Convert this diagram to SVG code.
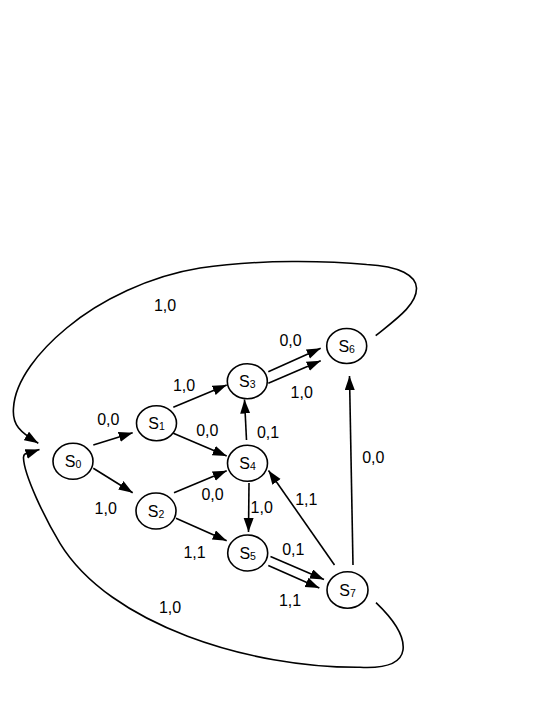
<svg xmlns="http://www.w3.org/2000/svg" width="545" height="705" viewBox="0 0 545 705">
<defs>
<marker id="arr" markerUnits="userSpaceOnUse" markerWidth="15" markerHeight="11" refX="14" refY="5" orient="auto">
<path d="M0,0 L14,5 L0,10 z" fill="#000"/>
</marker>
<style>
.node ellipse{fill:#fff;stroke:#000;stroke-width:1.6}
.node text{font-family:"Liberation Sans",Arial,sans-serif;font-size:16px;text-anchor:middle;fill:#000}
.node tspan{font-size:10.5px}
.edges path,.edges line{fill:none;stroke:#000;stroke-width:1.6}
.arrow{marker-end:url(#arr)}
.lbl{font-family:"Liberation Sans",Arial,sans-serif;font-size:16px;text-anchor:middle;fill:#000}
</style>
</defs>
<rect width="545" height="705" fill="#fff"/>
<g class="edges" id="connectors">
<line class="arrow" x1="93.3" y1="445" x2="132.7" y2="432.7"/>
<line class="arrow" x1="93.3" y1="468.3" x2="132.7" y2="492.7"/>
<line class="arrow" x1="173.3" y1="407.3" x2="226.7" y2="385"/>
<line class="arrow" x1="173.3" y1="433.3" x2="226.7" y2="456"/>
<line class="arrow" x1="174" y1="492.7" x2="226.7" y2="470.7"/>
<line class="arrow" x1="176" y1="518.3" x2="226.7" y2="540.7"/>
<line class="arrow" x1="246.5" y1="440" x2="244.5" y2="399.5"/>
<line class="arrow" x1="249" y1="483" x2="248.5" y2="532"/>
<line class="arrow" x1="268.3" y1="371.7" x2="320.7" y2="348.3"/>
<line class="arrow" x1="268.3" y1="383.3" x2="320.7" y2="360.7"/>
<line class="arrow" x1="270.5" y1="556.5" x2="324" y2="579.5"/>
<line class="arrow" x1="268.3" y1="565.5" x2="319.3" y2="588"/>
<line class="arrow" x1="334.5" y1="565" x2="268.5" y2="470.5"/>
<line class="arrow" x1="353" y1="565" x2="349.5" y2="376"/>
<path class="arrow" d="M375.7,335.7 C395,320 417,305 416.5,288 C416,276 400,266 366.7,264.5 C330,261 260,259 200,268 C150,276 100,300 66.7,328 C40,350 15,380 13.5,408 C12,425 20,432 38.3,443.3"/>
<path class="arrow" d="M376,602.7 C392,618 405,635 403,650 C401,664 385,668.5 360,667.3 C250,668 110,625 60,543.3 C45,518.7 24,475 23.5,458 C23,452 29,453 39.5,449.5"/>
</g>
<g id="labels">
<text class="lbl" x="108.3" y="425">0,0</text>
<text class="lbl" x="105.7" y="513.5">1,0</text>
<text class="lbl" x="184" y="390.5">1,0</text>
<text class="lbl" x="207.3" y="436">0,0</text>
<text class="lbl" x="268" y="437.5">0,1</text>
<text class="lbl" x="290.5" y="345.5">0,0</text>
<text class="lbl" x="301.7" y="397.5">1,0</text>
<text class="lbl" x="373.3" y="462.5">0,0</text>
<text class="lbl" x="212.5" y="499.5">0,0</text>
<text class="lbl" x="261.7" y="512.5">1,0</text>
<text class="lbl" x="306.3" y="504.5">1,1</text>
<text class="lbl" x="194.5" y="557.5">1,1</text>
<text class="lbl" x="293.3" y="554.5">0,1</text>
<text class="lbl" x="290" y="605.5">1,1</text>
<text class="lbl" x="165" y="310.5">1,0</text>
<text class="lbl" x="170" y="612.5">1,0</text>
</g>
<g class="node" id="S0"><ellipse cx="73" cy="461.3" rx="20" ry="18"/><text x="73" y="466.8">S<tspan dy="1">0</tspan></text></g>
<g class="node" id="S1"><ellipse cx="156.5" cy="423.3" rx="20" ry="17.5"/><text x="156.5" y="428.8">S<tspan dy="1">1</tspan></text></g>
<g class="node" id="S2"><ellipse cx="156" cy="511" rx="20" ry="18"/><text x="156" y="516.5">S<tspan dy="1">2</tspan></text></g>
<g class="node" id="S3"><ellipse cx="247.3" cy="381.2" rx="20" ry="17.5"/><text x="247.3" y="386.7">S<tspan dy="1">3</tspan></text></g>
<g class="node" id="S4"><ellipse cx="247.5" cy="463.3" rx="20" ry="18"/><text x="247.5" y="468.8">S<tspan dy="1">4</tspan></text></g>
<g class="node" id="S5"><ellipse cx="247.7" cy="553" rx="20" ry="18"/><text x="247.7" y="558.5">S<tspan dy="1">5</tspan></text></g>
<g class="node" id="S6"><ellipse cx="346.7" cy="346" rx="20" ry="17.5"/><text x="346.7" y="351.5">S<tspan dy="1">6</tspan></text></g>
<g class="node" id="S7"><ellipse cx="347.5" cy="590" rx="20.5" ry="18.3"/><text x="347.5" y="595.5">S<tspan dy="1">7</tspan></text></g>
</svg>
